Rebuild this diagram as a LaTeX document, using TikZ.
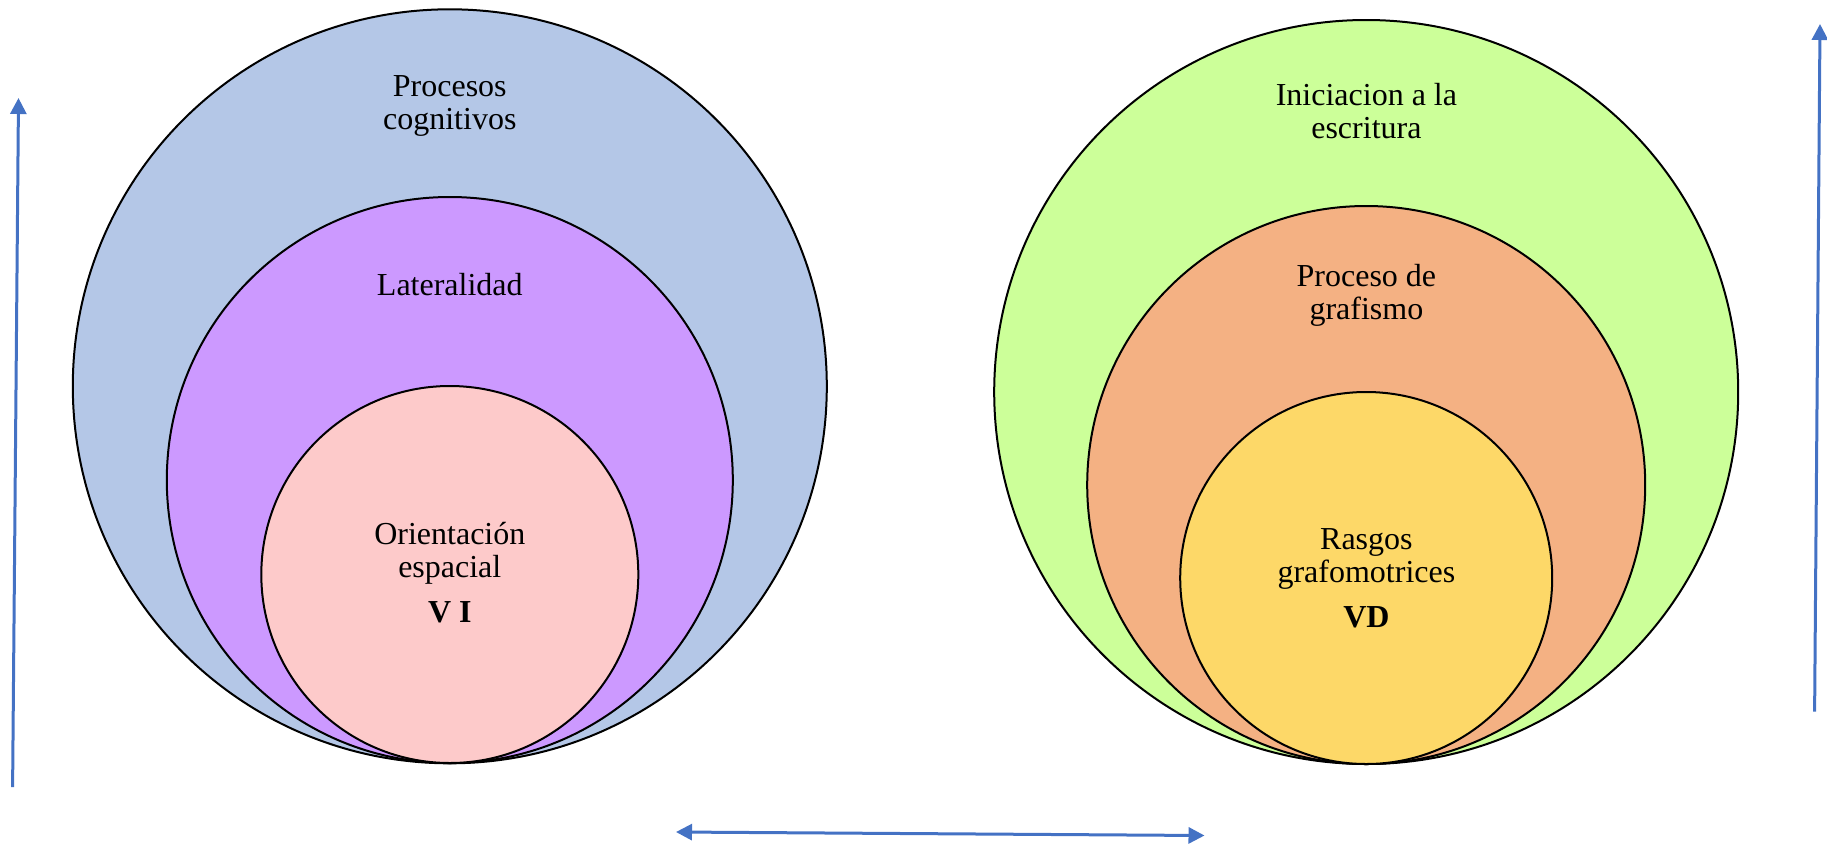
\documentclass[tikz,border=0pt]{standalone}
\usepackage{fontspec}
\setmainfont{Liberation Serif}
\usetikzlibrary{arrows.meta}
\definecolor{cblue}{HTML}{B4C7E7}
\definecolor{cviolet}{HTML}{CC99FF}
\definecolor{cpink}{HTML}{FDCACA}
\definecolor{cgreen}{HTML}{CCFF99}
\definecolor{corange}{HTML}{F4B183}
\definecolor{cyellow}{HTML}{FDD868}
\definecolor{arrowblue}{HTML}{4472C4}
\tikzset{
  ring/.style={circle, draw=black, line width=2pt, inner sep=0pt},
  lbl/.style={font=\rmfamily\fontsize{32}{33}\selectfont, align=center, anchor=base, inner sep=0pt},
  axis/.style={draw=arrowblue, line width=3pt, -{Triangle[length=16pt,width=16pt]}},
  axisboth/.style={draw=arrowblue, line width=3pt, {Triangle[length=16pt,width=16pt]}-{Triangle[length=16pt,width=16pt]}}
}
\begin{document}
\begin{tikzpicture}[x=1pt,y=-1pt]
\useasboundingbox (0,0) rectangle (1827,844);
% left set
\node[ring, fill=cblue, minimum size=754pt] (pc) at (449.8,386.3) {};
\node[ring, fill=cviolet, minimum size=566pt] (lat) at (449.8,480) {};
\node[ring, fill=cpink, minimum size=377pt] (oe) at (449.8,574.5) {};
\node[lbl] (tpc) at (449.8,129) {Procesos\\cognitivos};
\node[lbl] (tlat) at (449.8,295) {Lateralidad};
\node[lbl] (toe) at (449.8,577.5) {Orientación\\espacial};
\node[lbl, font=\rmfamily\fontsize{32}{33}\selectfont\bfseries] (tvi) at (449.8,622.7) {V I};
% right set
\node[ring, fill=cgreen, minimum size=744pt] (ie) at (1366.2,392) {};
\node[ring, fill=corange, minimum size=558pt] (pg) at (1366.2,485) {};
\node[ring, fill=cyellow, minimum size=372pt] (rg) at (1366.2,578) {};
\node[lbl] (tie) at (1366.4,138.9) {Iniciacion a la\\escritura};
\node[lbl] (tpg) at (1366.4,319) {Proceso de\\grafismo};
\node[lbl] (trg) at (1366.4,582.4) {Rasgos\\grafomotrices};
\node[lbl, font=\rmfamily\fontsize{32}{33}\selectfont\bfseries] (tvd) at (1366.4,627.5) {VD};
% arrows
\coordinate (l1) at (12.6,787);
\coordinate (l2) at (18.5,98);
\coordinate (r1) at (1814.6,711.5);
\coordinate (r2) at (1820,24);
\coordinate (h1) at (676,832);
\coordinate (h2) at (1204.5,835.5);
\draw[axis] (l1) -- (l2);
\draw[axis] (r1) -- (r2);
\draw[axisboth] (h1) -- (h2);
\end{tikzpicture}
\end{document}
